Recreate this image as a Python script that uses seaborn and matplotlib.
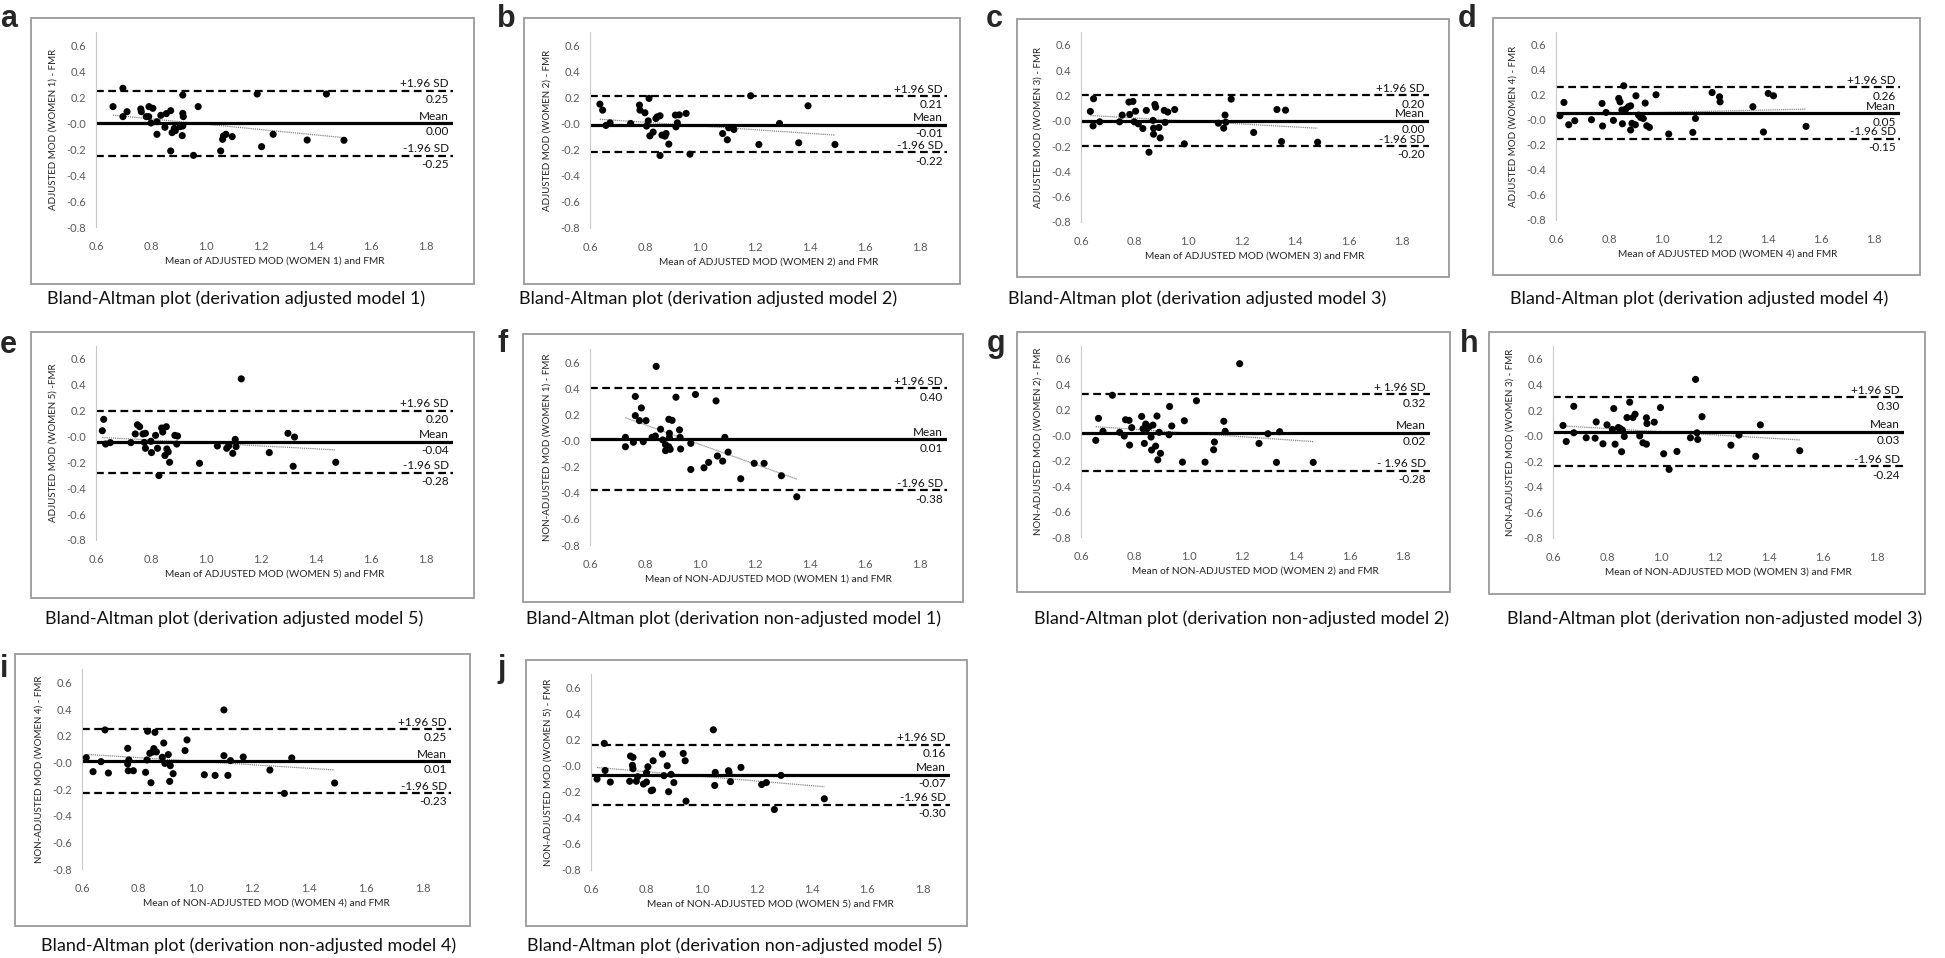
import numpy as np
import seaborn as sns
import matplotlib.pyplot as plt
from matplotlib.patches import Rectangle

# ---- data: (mean of the two methods, difference) ----
a_x = [0.662, 0.698, 0.698, 0.713, 0.763, 0.765, 0.783, 0.793, 0.792, 0.807, 0.800, 0.822, 0.822, 0.836,
       0.851, 0.856, 0.872, 0.872, 0.877, 0.885, 0.889, 0.906, 0.916, 0.916, 0.918, 0.916, 0.914, 0.955,
       0.972, 1.054, 1.061, 1.064, 1.073, 1.096, 1.187, 1.203, 1.245, 1.369, 1.439, 1.503]
a_y = [0.126, 0.267, 0.049, 0.087, 0.108, 0.087, 0.049, 0.126, 0.049, 0.113, 0.000, 0.010, -0.087, 0.059,
       -0.033, 0.072, 0.095, -0.215, -0.074, -0.041, -0.059, -0.028, 0.215, 0.074, 0.049, -0.023, -0.097, -0.249,
       0.126, -0.215, -0.126, -0.100, -0.087, -0.105, 0.223, -0.182, -0.087, -0.131, 0.223, -0.133]

b_x = [0.636, 0.646, 0.658, 0.673, 0.748, 0.780, 0.782, 0.800, 0.806, 0.812, 0.815, 0.818, 0.830, 0.840,
       0.845, 0.855, 0.855, 0.862, 0.873, 0.877, 0.887, 0.911, 0.913, 0.918, 0.925, 0.950, 0.964, 1.083,
       1.100, 1.105, 1.124, 1.185, 1.215, 1.290, 1.360, 1.394, 1.492]
b_y = [0.148, 0.102, -0.015, 0.005, 0.000, 0.141, 0.102, 0.082, -0.020, 0.020, 0.192, -0.095, -0.066, 0.038,
       0.051, 0.059, -0.245, -0.089, -0.097, -0.077, -0.158, 0.064, -0.026, 0.005, 0.066, 0.077, -0.235, -0.077,
       -0.125, -0.033, -0.046, 0.212, -0.161, 0.000, -0.148, 0.135, -0.161]

c_x = [0.635, 0.647, 0.645, 0.670, 0.744, 0.754, 0.779, 0.794, 0.782, 0.804, 0.799, 0.814, 0.831, 0.844,
       0.854, 0.869, 0.871, 0.871, 0.876, 0.879, 0.891, 0.896, 0.911, 0.914, 0.924, 0.950, 0.986, 1.113,
       1.133, 1.138, 1.141, 1.161, 1.245, 1.332, 1.364, 1.349, 1.484]
c_y = [0.073, 0.173, -0.041, -0.009, -0.009, 0.044, 0.147, 0.152, 0.049, 0.075, -0.009, -0.025, -0.062, 0.081,
       -0.249, 0.002, -0.059, -0.107, 0.128, 0.107, -0.054, -0.136, 0.081, -0.014, 0.068, 0.088, -0.183, -0.020,
       -0.059, 0.044, -0.012, 0.170, -0.093, 0.088, 0.083, -0.165, -0.170]

d_x = [0.615, 0.630, 0.648, 0.671, 0.734, 0.774, 0.776, 0.789, 0.817, 0.837, 0.842, 0.849, 0.851, 0.856,
       0.864, 0.874, 0.882, 0.882, 0.887, 0.900, 0.902, 0.912, 0.920, 0.930, 0.937, 0.943, 0.953, 0.978,
       1.026, 1.117, 1.127, 1.190, 1.218, 1.220, 1.344, 1.384, 1.402, 1.422, 1.545]
d_y = [0.032, 0.138, -0.040, -0.008, 0.000, 0.130, -0.050, 0.058, -0.005, 0.170, 0.143, 0.077, -0.032, 0.271,
       0.085, 0.104, 0.111, -0.082, -0.029, -0.040, 0.191, 0.037, 0.018, 0.010, 0.133, -0.048, -0.061, 0.199,
       -0.114, -0.101, 0.010, 0.217, 0.183, 0.143, 0.104, -0.098, 0.210, 0.191, -0.053]

e_x = [0.623, 0.628, 0.635, 0.652, 0.727, 0.743, 0.751, 0.759, 0.771, 0.780, 0.776, 0.780, 0.800, 0.802,
       0.817, 0.824, 0.829, 0.839, 0.843, 0.856, 0.851, 0.858, 0.863, 0.868, 0.887, 0.894, 0.897, 0.977,
       1.042, 1.076, 1.083, 1.098, 1.107, 1.110, 1.129, 1.231, 1.299, 1.323, 1.318, 1.473]
e_y = [0.045, 0.133, -0.058, -0.047, -0.047, 0.020, 0.091, 0.076, 0.020, 0.025, -0.045, -0.091, -0.037, -0.124,
       0.009, -0.091, -0.302, 0.066, 0.035, 0.076, -0.147, -0.096, -0.119, -0.199, 0.009, -0.058, 0.004, -0.207,
       -0.073, -0.091, -0.073, -0.130, -0.022, -0.078, 0.446, -0.124, 0.025, -0.004, -0.230, -0.199]

f_x = [0.729, 0.729, 0.758, 0.765, 0.765, 0.780, 0.787, 0.794, 0.804, 0.826, 0.838, 0.841, 0.857, 0.865,
       0.875, 0.875, 0.887, 0.889, 0.889, 0.887, 0.892, 0.899, 0.913, 0.926, 0.928, 0.930, 0.967, 0.967,
       0.984, 1.015, 1.032, 1.059, 1.064, 1.083, 1.091, 1.103, 1.149, 1.198, 1.234, 1.297, 1.353]
f_y = [0.024, -0.048, -0.014, 0.337, 0.190, 0.152, 0.249, -0.009, 0.152, 0.024, 0.034, 0.567, 0.086, 0.004,
       -0.078, -0.032, 0.162, 0.055, 0.024, -0.048, -0.068, 0.154, 0.331, 0.081, 0.024, -0.065, -0.022, -0.222,
       0.352, -0.209, -0.168, 0.303, -0.119, -0.158, 0.024, -0.089, -0.293, -0.175, -0.175, -0.270, -0.431]

g_x = [0.655, 0.665, 0.682, 0.717, 0.744, 0.761, 0.766, 0.779, 0.781, 0.789, 0.826, 0.831, 0.836, 0.841,
       0.846, 0.853, 0.861, 0.863, 0.868, 0.878, 0.883, 0.886, 0.891, 0.896, 0.928, 0.930, 0.938, 0.978,
       0.985, 1.030, 1.062, 1.097, 1.094, 1.132, 1.137, 1.191, 1.263, 1.296, 1.328, 1.340, 1.465]
g_y = [-0.041, 0.132, 0.030, 0.313, 0.022, -0.007, 0.121, 0.116, -0.078, 0.059, 0.147, 0.050, -0.065, 0.087,
       0.050, 0.064, -0.015, -0.117, 0.079, -0.086, 0.150, -0.194, 0.022, -0.143, 0.003, 0.225, 0.072, -0.212,
       0.113, 0.270, -0.212, -0.054, -0.115, 0.109, 0.030, 0.561, -0.065, 0.011, -0.214, 0.027, -0.214]

h_x = [0.637, 0.649, 0.677, 0.677, 0.723, 0.756, 0.760, 0.785, 0.800, 0.820, 0.825, 0.830, 0.842, 0.849,
       0.854, 0.857, 0.864, 0.874, 0.884, 0.896, 0.904, 0.921, 0.933, 0.946, 0.946, 0.948, 0.975, 0.998,
       1.010, 1.030, 1.059, 1.109, 1.128, 1.133, 1.136, 1.152, 1.259, 1.289, 1.351, 1.368, 1.514]
h_y = [0.079, -0.046, 0.229, 0.022, -0.017, -0.020, 0.107, -0.064, 0.084, 0.048, 0.211, -0.067, 0.063, 0.055,
       -0.126, 0.043, -0.007, 0.141, 0.261, 0.141, 0.167, -0.002, -0.056, -0.067, 0.139, 0.094, 0.105, 0.219,
       -0.142, -0.264, -0.124, -0.017, 0.439, 0.022, -0.030, 0.148, -0.075, 0.004, -0.162, 0.084, -0.118]

i_x = [0.615, 0.639, 0.667, 0.681, 0.693, 0.761, 0.761, 0.763, 0.765, 0.781, 0.824, 0.829, 0.831, 0.839,
       0.843, 0.850, 0.853, 0.857, 0.862, 0.883, 0.888, 0.892, 0.904, 0.909, 0.911, 0.921, 0.963, 0.970,
       1.031, 1.069, 1.100, 1.100, 1.114, 1.123, 1.168, 1.262, 1.313, 1.339, 1.490]
i_y = [0.035, -0.070, 0.005, 0.243, -0.080, 0.105, -0.012, -0.063, 0.018, -0.063, -0.075, 0.018, 0.233, 0.068,
       -0.153, 0.078, 0.103, 0.225, 0.078, 0.038, 0.145, -0.008, 0.058, -0.143, -0.025, -0.085, 0.088, 0.168,
       -0.093, -0.098, 0.393, 0.050, -0.098, 0.013, 0.040, -0.058, -0.233, 0.033, -0.155]

j_x = [0.622, 0.648, 0.651, 0.670, 0.740, 0.743, 0.752, 0.750, 0.752, 0.764, 0.769, 0.790, 0.801, 0.806,
       0.801, 0.818, 0.823, 0.825, 0.859, 0.864, 0.876, 0.881, 0.890, 0.900, 0.934, 0.941, 0.944, 1.043,
       1.048, 1.050, 1.098, 1.100, 1.105, 1.143, 1.218, 1.235, 1.264, 1.288, 1.445]
j_y = [-0.104, 0.169, -0.038, -0.127, -0.121, 0.072, 0.062, 0.001, -0.025, -0.121, -0.086, -0.142, -0.127, -0.010,
       -0.055, -0.193, -0.188, 0.036, 0.087, -0.078, -0.002, -0.201, -0.068, -0.131, 0.092, 0.036, -0.273, 0.273,
       -0.153, -0.053, -0.040, -0.053, -0.124, -0.015, -0.146, -0.131, -0.337, -0.076, -0.255]

letters = ['a', 'b', 'c', 'd', 'e', 'f', 'g', 'h', 'i', 'j']
xs = [a_x, b_x, c_x, d_x, e_x, f_x, g_x, h_x, i_x, j_x]
ys = [a_y, b_y, c_y, d_y, e_y, f_y, g_y, h_y, i_y, j_y]
upper = [0.25, 0.21, 0.20, 0.26, 0.20, 0.40, 0.32, 0.30, 0.25, 0.16]
means = [0.00, -0.01, 0.00, 0.05, -0.04, 0.01, 0.02, 0.03, 0.01, -0.07]
lower = [-0.25, -0.22, -0.20, -0.15, -0.28, -0.38, -0.28, -0.24, -0.23, -0.30]
models = ['adjusted'] * 5 + ['non-adjusted'] * 5
women = [1, 2, 3, 4, 5, 1, 2, 3, 4, 5]

# ---- layout in pixels of the 1945x958 canvas ----
W, H = 1945, 958
# plot area (left, top, right, bottom) for xlim 0.6-1.9, ylim -0.8-0.7
axes_px = [(96, 32, 453, 227), (590, 32, 947, 228), (1081, 32, 1429, 222), (1556, 32, 1900, 220),
           (96, 346, 453, 540), (590, 349, 947, 545), (1081, 346, 1430, 537), (1553, 346, 1904, 538),
           (82, 669, 451, 869), (591, 674, 950, 870)]
frame_px = [(31, 18, 474, 284), (524, 18, 960, 284), (1017, 19, 1449, 277), (1493, 18, 1920, 275),
            (31, 332, 474, 598), (523, 334, 963, 602), (1017, 332, 1450, 592), (1489, 332, 1925, 594),
            (15, 654, 470, 926), (526, 660, 967, 926)]
letter_px = [(0, 27), (497, 27), (986, 27), (1458, 27), (0, 353), (497, 352), (987, 352), (1460, 352),
             (0, 677), (497, 677)]
caption_px = [(236, 299), (708, 299), (1197, 299), (1699, 299), (234, 619), (733, 619), (1242, 619),
              (1715, 619), (249, 946), (735, 946)]

sns.set_style("white")
plt.rcParams['font.family'] = ['Lato', 'DejaVu Sans']

fig = plt.figure(figsize=(W / 100, H / 100), dpi=100)

for k in range(10):
    x0, y0, x1, y1 = axes_px[k]
    ax = fig.add_axes([x0 / W, 1 - y1 / H, (x1 - x0) / W, (y1 - y0) / H])
    ax.set_facecolor('none')

    fx0, fy0, fx1, fy1 = frame_px[k]
    fig.patches.append(Rectangle((fx0 / W, 1 - fy1 / H), (fx1 - fx0) / W, (fy1 - fy0) / H,
                                 transform=fig.transFigure, fill=False, edgecolor='#9a9a9a', lw=1.3))

    ax.axhline(upper[k], color='black', ls=(0, (3.5, 2)), lw=1.6, zorder=2)
    ax.axhline(lower[k], color='black', ls=(0, (3.5, 2)), lw=1.6, zorder=2)
    ax.axhline(means[k], color='black', lw=2.3, zorder=2)

    sns.regplot(x=np.array(xs[k]), y=np.array(ys[k]), scatter=False, ci=None, ax=ax,
                line_kws=dict(color='#888888', lw=0.9, ls=(0, (1, 0.7)), zorder=1))
    sns.scatterplot(x=xs[k], y=ys[k], color='black', s=26, edgecolor='none', ax=ax, zorder=3)

    plus = '+ 1.96 SD' if k == 6 else '+1.96 SD'
    minus = '- 1.96 SD' if k == 6 else '-1.96 SD'
    for lab, val in [(plus, upper[k]), ('Mean', means[k]), (minus, lower[k])]:
        ax.annotate(lab, xy=(1.885, val), xytext=(0, 2.5), textcoords='offset points',
                    ha='right', va='baseline', fontsize=8.5, color='#111111')
        ax.annotate('%.2f' % val, xy=(1.885, val), xytext=(0, -2.5), textcoords='offset points',
                    ha='right', va='top', fontsize=8.5, color='#111111')

    ax.set_xlim(0.6, 1.9)
    ax.set_ylim(-0.8, 0.7)
    ax.set_xticks(np.arange(0.6, 1.81, 0.2))
    ax.set_yticks(np.arange(-0.8, 0.61, 0.2))
    ax.set_xticklabels(['%.1f' % v for v in np.arange(0.6, 1.81, 0.2)])
    ax.set_yticklabels(['%.1f' % v for v in np.arange(-0.8, 0.61, 0.2)])
    ax.tick_params(axis='y', length=3, width=0.8, color='#bfbfbf', pad=4, labelsize=8, labelcolor='#595959')
    ax.tick_params(axis='x', length=0, pad=10, labelsize=8, labelcolor='#595959')
    for s in ['top', 'right', 'bottom']:
        ax.spines[s].set_visible(False)
    ax.spines['left'].set_color('#c8c8c8')
    ax.spines['left'].set_linewidth(0.8)

    tag = 'ADJUSTED' if models[k] == 'adjusted' else 'NON-ADJUSTED'
    sep = ' -FMR' if k == 4 else ' - FMR'
    ax.set_ylabel('%s MOD (WOMEN %d)%s' % (tag, women[k], sep), fontsize=7, color='#222222')
    ax.set_xlabel('Mean of %s MOD (WOMEN %d) and FMR' % (tag, women[k]), fontsize=7.3, color='#222222')
    ax.yaxis.set_label_coords(-43 / (x1 - x0), 0.5)
    ax.xaxis.set_label_coords(0.5, -34 / (y1 - y0))
    ax.yaxis.label.set_va('center')
    ax.xaxis.label.set_va('center')

    lx, ly = letter_px[k]
    fig.text(lx / W, 1 - ly / H, letters[k], fontsize=22, fontweight='bold',
             family='Liberation Sans', ha='left', va='baseline')
    cx, cy = caption_px[k]
    fig.text(cx / W, 1 - cy / H, 'Bland-Altman plot (derivation %s model %d)' % (models[k], women[k]),
             fontsize=13, ha='center', va='center', color='#111111')

fig.savefig('out.png', dpi=100)
